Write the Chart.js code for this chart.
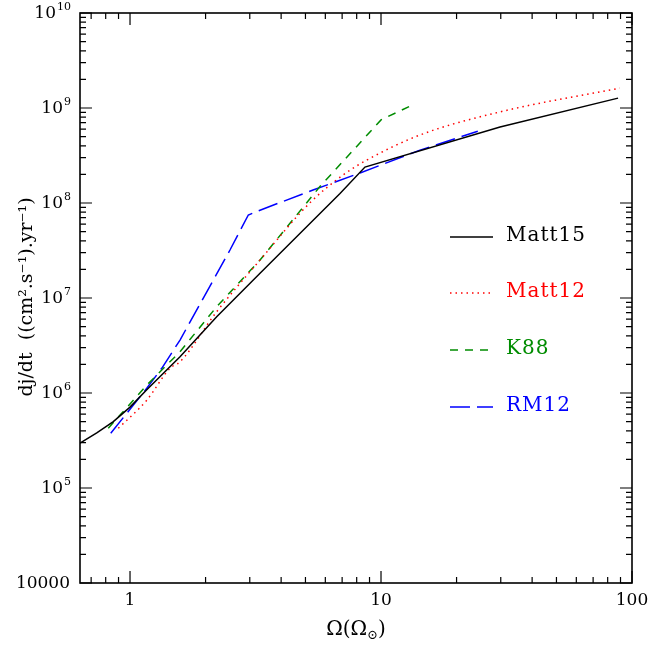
<!DOCTYPE html>
<html lang="en">
  <head>
    <meta charset="UTF-8">
    <title>dj/dt</title>
    <script src="https://cdn.jsdelivr.net/npm/chart.js"></script>
    <style>
      body { margin: 0; background: #fff; }
    </style>
  </head>

  <body>
    <canvas id="grafico" width="648" height="646"></canvas>

    <script>
      // data (Omega in solar units, dj/dt)
      const matt15X = [0.632, 0.737, 0.858, 1.0, 1.166, 1.582, 2.215, 3.296, 6.865, 8.63, 29.8, 88]
      const matt15Y = [2.96e5, 3.8e5, 5.0e5, 7.1e5, 1.08e6, 2.41e6, 6.36e6, 1.82e7, 1.26e8, 2.39e8, 6.3e8, 1.27e9]

      const matt12X = [0.898, 1.166, 1.443, 1.582, 2.215, 3.296, 5.2, 7.06, 8.8, 14.3, 29.8, 89.4]
      const matt12Y = [4.25e5, 8.4e5, 1.82e6, 2.13e6, 7.18e6, 2.51e7, 1.0e8, 1.97e8, 2.84e8, 5.2e8, 9.1e8, 1.62e9]

      const k88X = [0.819, 1.166, 1.582, 2.215, 3.296, 5.71, 10, 13.4]
      const k88Y = [4.25e5, 1.21e6, 2.72e6, 8.1e6, 2.51e7, 1.49e8, 7.5e8, 1.08e9]

      const rm12X = [0.838, 1.166, 1.338, 1.582, 2.502, 2.96, 3.296, 5.36, 8.25, 14.3, 24.3]
      const rm12Y = [3.77e5, 1.12e6, 1.82e6, 3.61e6, 3.2e7, 7.48e7, 8.4e7, 1.37e8, 2.07e8, 3.6e8, 5.7e8]

      const nomes = ["Matt15", "Matt12", "K88", "RM12"]
      const cores = ["#000000", "#ff0000", "#008c00", "#0000ff"]
      const tracos = [[], [1.5, 4], [8, 7], [20, 7]]
      const suave = [false, true, false, false]

      const xLabels = [[1, "1"], [10, "10"], [100, "100"]]
      const yLabels = [[1e10, "10", "10"], [1e9, "10", "9"], [1e8, "10", "8"], [1e7, "10", "7"],
                       [1e6, "10", "6"], [1e5, "10", "5"], [1e4, "10000", ""]]

      const pontos = (xs, ys) => xs.map((x, i) => ({x: x, y: ys[i]}))
      const series = [pontos(matt15X, matt15Y), pontos(matt12X, matt12Y), pontos(k88X, k88Y), pontos(rm12X, rm12Y)]

      const serif = '"DejaVu Serif", serif'

      // frame, inward ticks, tick labels, titles and legend
      const moldura = {
        id: 'moldura',
        afterDraw(chart) {
          const c = chart.ctx
          const a = chart.chartArea
          const sx = chart.scales.x
          const sy = chart.scales.y
          c.save()
          c.strokeStyle = '#000'
          c.lineWidth = 1.6
          c.strokeRect(a.left, a.top, a.right - a.left, a.bottom - a.top)

          c.lineWidth = 1.2
          c.beginPath()
          for (let d = 0.1; d <= 100; d *= 10) {
            for (let m = 1; m <= 9; m++) {
              const v = m * d
              if (v < sx.min || v > sx.max * 1.0001) continue
              const px = sx.getPixelForValue(v)
              const len = m == 1 ? 12 : 6
              c.moveTo(px, a.bottom); c.lineTo(px, a.bottom - len)
              c.moveTo(px, a.top); c.lineTo(px, a.top + len)
            }
          }
          for (let d = 1e4; d <= 1e10; d *= 10) {
            for (let m = 1; m <= 9; m++) {
              const v = m * d
              if (v < sy.min || v > sy.max * 1.0001) continue
              const py = sy.getPixelForValue(v)
              const len = m == 1 ? 12 : 6
              c.moveTo(a.left, py); c.lineTo(a.left + len, py)
              c.moveTo(a.right, py); c.lineTo(a.right - len, py)
            }
          }
          c.stroke()

          c.fillStyle = '#000'
          c.font = '17px ' + serif
          c.textAlign = 'center'
          c.textBaseline = 'middle'
          xLabels.forEach(([v, t]) => c.fillText(t, sx.getPixelForValue(v), a.bottom + 18))

          yLabels.forEach(([v, base, exp]) => {
            const py = sy.getPixelForValue(v)
            c.font = '11px ' + serif
            const we = exp ? c.measureText(exp).width : 0
            c.font = '17px ' + serif
            const wb = c.measureText(base).width
            const right = a.left - 9
            c.textAlign = 'left'
            c.fillText(base, right - we - wb - 1, py + 1)
            if (exp) {
              c.font = '11px ' + serif
              c.fillText(exp, right - we, py - 6)
            }
          })

          // x title
          c.font = '20px ' + serif
          const t1 = 'Ω(Ω'
          const w1 = c.measureText(t1).width
          c.font = '13px ' + serif
          const w2 = c.measureText('⊙').width
          c.font = '20px ' + serif
          const w3 = c.measureText(')').width
          let x0 = 356 - (w1 + w2 + w3) / 2
          c.textAlign = 'left'
          c.fillText(t1, x0, 630)
          c.font = '13px ' + serif
          c.fillText('⊙', x0 + w1, 636)
          c.font = '20px ' + serif
          c.fillText(')', x0 + w1 + w2, 630)

          // y title
          c.translate(27, 297)
          c.rotate(-Math.PI / 2)
          c.textAlign = 'center'
          c.font = '19px ' + serif
          c.fillText('dj/dt  ((cm².s⁻¹).yr⁻¹)', 0, 0)
          c.restore()

          // legend
          c.save()
          const linhasY = [237, 293, 350, 407]
          chart.data.datasets.forEach((ds, i) => {
            c.strokeStyle = ds.borderColor
            c.lineWidth = 1.5
            c.setLineDash(ds.borderDash)
            c.beginPath()
            c.moveTo(450, linhasY[i])
            c.lineTo(493, linhasY[i])
            c.stroke()
            c.setLineDash([])
            c.fillStyle = ds.borderColor
            c.font = '20px ' + serif
            c.letterSpacing = '1px'
            c.textAlign = 'left'
            c.textBaseline = 'middle'
            c.fillText(ds.label, 506, linhasY[i] - 1)
          })
          c.restore()
        }
      }

      const ctx = document.getElementById('grafico')

      new Chart(ctx, {
        type: 'line',
        data: {
          datasets: series.map((s, i) => ({
            label: nomes[i],
            data: s,
            borderColor: cores[i],
            borderDash: tracos[i],
            borderWidth: 1.5,
            pointRadius: 0,
            tension: 0,
            cubicInterpolationMode: suave[i] ? 'monotone' : 'default',
            fill: false
          }))
        },
        options: {
          responsive: false,
          animation: false,
          layout: {
            padding: {left: 80, right: 16, top: 13, bottom: 63}
          },
          plugins: {
            legend: {display: false},
            tooltip: {enabled: false}
          },
          scales: {
            x: {type: 'logarithmic', min: 0.632, max: 100, bounds: 'data', display: false},
            y: {type: 'logarithmic', min: 1e4, max: 1e10, bounds: 'data', display: false}
          }
        },
        plugins: [moldura]
      })
    </script>
  </body>
</html>
